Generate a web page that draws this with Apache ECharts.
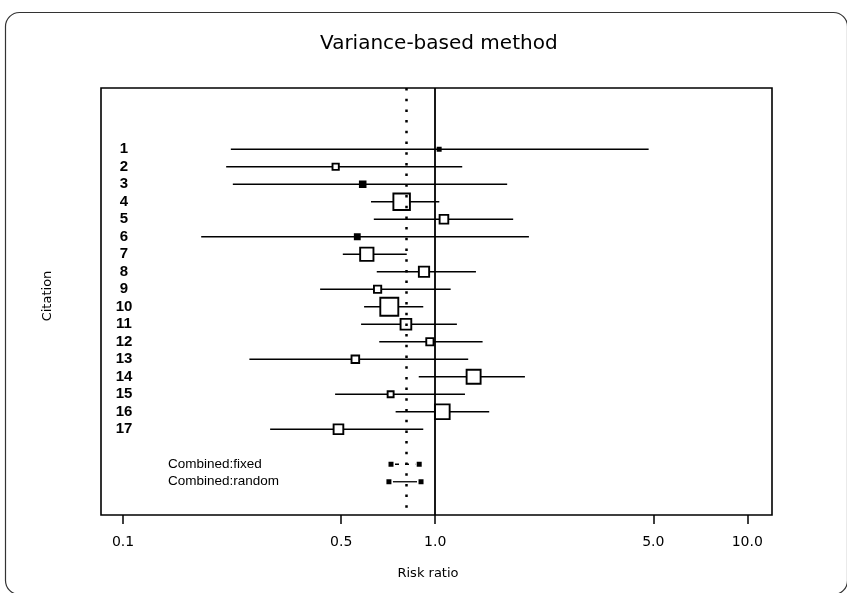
<!DOCTYPE html>
<html>
<head>
<meta charset="utf-8">
<script src="https://cdn.jsdelivr.net/npm/echarts@6/dist/echarts.min.js"></script>
<style>
  html, body { margin: 0; padding: 0; background: #fff; }
  #chart { width: 847px; height: 593px; }
</style>
</head>
<body>
<div id="chart"></div>
<script>
// ---- data ----
const citations = ['1','2','3','4','5','6','7','8','9','10','11','12','13','14','15','16','17'];
const estimates = [1.03, 0.48, 0.586, 0.781, 1.067, 0.563, 0.604, 0.921, 0.654, 0.713, 0.806, 0.962, 0.555, 1.328, 0.72, 1.054, 0.49];
const lowerCI   = [0.2215, 0.214, 0.2248, 0.623, 0.636, 0.178, 0.506, 0.65, 0.428, 0.592, 0.579, 0.662, 0.254, 0.886, 0.478, 0.747, 0.296];
const upperCI   = [4.83, 1.221, 1.701, 1.031, 1.778, 1.997, 0.811, 1.351, 1.121, 0.916, 1.174, 1.419, 1.276, 1.939, 1.246, 1.49, 0.916];
const weights   = [0.5, 2.1, 1.7, 14.5, 4.0, 1.3, 9.4, 5.6, 2.8, 17.2, 6.1, 2.8, 3.1, 10.4, 1.9, 11.5, 5.0];

const pooledLabels = ['Combined:fixed', 'Combined:random'];
const pooledEst    = [0.805, 0.805];
const pooledLower  = [0.722, 0.711];
const pooledUpper  = [0.889, 0.901];

const xTickValues = [0.1, 0.5, 1, 5, 10];
const xTickLabels = ['0.1', '0.5', '1.0', '5.0', '10.0'];

// ---- build ----
const studyRows = citations.map((c, i) => i + 1);
const pooledRows = pooledLabels.map((c, j) => citations.length + 2 + j);

const studyData = citations.map((c, i) => [lowerCI[i], upperCI[i], estimates[i], studyRows[i], weights[i]]);
const pooledData = pooledLabels.map((c, j) => [pooledLower[j], pooledUpper[j], pooledEst[j], pooledRows[j], j]);

const chart = echarts.init(document.getElementById('chart'), null, { renderer: 'canvas' });

const option = {
  backgroundColor: '#fff',
  animation: false,
  title: {
    text: 'Variance-based method',
    left: 315, top: 29,
    textStyle: { fontFamily: 'DejaVu Sans', fontSize: 20, fontWeight: 'normal', color: '#000' }
  },
  graphic: [{
    type: 'rect', left: 3, top: 10, silent: true,
    shape: { width: 842, height: 582, r: 14 },
    style: { fill: 'none', stroke: '#333', lineWidth: 1.2 }
  }],
  grid: { left: 101, right: 75, top: 88, bottom: 78, show: true, borderColor: '#000', borderWidth: 1.6, backgroundColor: 'transparent' },
  xAxis: {
    type: 'log', logBase: 10, min: 0.085, max: 12,
    axisLine: { show: false, onZero: false },
    splitLine: { show: false },
    axisTick: { show: true, customValues: xTickValues, length: 9, lineStyle: { color: '#000', width: 1.5 } },
    axisLabel: {
      customValues: xTickValues,
      formatter: v => { const k = xTickValues.findIndex(t => Math.abs(t - v) < 1e-9); return k >= 0 ? xTickLabels[k] : ''; },
      fontFamily: 'DejaVu Sans', fontSize: 14, color: '#000', margin: 20
    },
    name: 'Risk ratio', nameLocation: 'middle', nameGap: 52,
    nameTextStyle: { fontFamily: 'DejaVu Sans', fontSize: 13, color: '#000', padding: [0, 17, 0, 0] }
  },
  yAxis: [{
    type: 'value', inverse: true, min: -2.5, max: 21.9,
    axisLine: { show: false, onZero: false }, axisTick: { show: false }, splitLine: { show: false },
    axisLabel: {
      inside: true, margin: 23, align: 'center', customValues: studyRows,
      formatter: v => citations[Math.round(v) - 1] || '',
      fontFamily: 'Liberation Sans', fontWeight: 'bold', fontSize: 15, color: '#000'
    },
    name: 'Citation', nameLocation: 'middle', nameGap: 47, nameRotate: 90,
    nameTextStyle: { fontFamily: 'DejaVu Sans', fontSize: 13, color: '#000', padding: [0, 0, 0, 11] }
  }, {
    type: 'value', inverse: true, min: -2.5, max: 21.9, position: 'left',
    axisLine: { show: false, onZero: false }, axisTick: { show: false }, splitLine: { show: false },
    axisLabel: {
      inside: true, margin: 67, align: 'left', customValues: pooledRows,
      formatter: v => pooledLabels[Math.round(v) - citations.length - 2] || '',
      fontFamily: 'Liberation Sans', fontSize: 13.5, color: '#000'
    }
  }],
  series: [{
    type: 'custom',
    name: 'studies',
    xAxisIndex: 0, yAxisIndex: 0,
    data: studyData,
    silent: true,
    renderItem: (params, api) => {
      const lo = api.coord([api.value(0), api.value(3)]);
      const hi = api.coord([api.value(1), api.value(3)]);
      const c = api.coord([api.value(2), api.value(3)]);
      const side = 4.34 * Math.sqrt(api.value(4));
      const small = side < 5.8;
      return {
        type: 'group',
        children: [{
          type: 'line',
          shape: { x1: lo[0], y1: lo[1], x2: hi[0], y2: hi[1] },
          style: { stroke: '#000', lineWidth: 1.7 }
        }, {
          type: 'rect',
          shape: { x: c[0] - side / 2, y: c[1] - side / 2, width: side, height: side },
          style: { fill: small ? '#000' : '#fff', stroke: '#000', lineWidth: 1.9 }
        }]
      };
    },
    markLine: {
      silent: true, symbol: 'none', label: { show: false },
      data: [
        { xAxis: 1, lineStyle: { color: '#000', width: 1.8, type: 'solid' } },
        { xAxis: pooledEst[0], lineStyle: { color: '#000', width: 2.5, type: [2.5, 8.2] } }
      ]
    }
  }, {
    type: 'custom',
    name: 'pooled',
    xAxisIndex: 0, yAxisIndex: 0,
    data: pooledData,
    silent: true,
    renderItem: (params, api) => {
      const lo = api.coord([api.value(0), api.value(3)]);
      const hi = api.coord([api.value(1), api.value(3)]);
      const s = 5;
      const dashed = api.value(4) === 0;
      return {
        type: 'group',
        children: [{
          type: 'line',
          shape: { x1: lo[0] + 4, y1: lo[1], x2: hi[0] - 4, y2: hi[1] },
          style: { stroke: '#000', lineWidth: 1.3, lineDash: dashed ? [4, 6] : null }
        }, {
          type: 'rect',
          shape: { x: lo[0] - s / 2, y: lo[1] - s / 2, width: s, height: s },
          style: { fill: '#000', stroke: null }
        }, {
          type: 'rect',
          shape: { x: hi[0] - s / 2, y: hi[1] - s / 2, width: s, height: s },
          style: { fill: '#000', stroke: null }
        }]
      };
    }
  }]
};
chart.setOption(option);
</script>
</body>
</html>
